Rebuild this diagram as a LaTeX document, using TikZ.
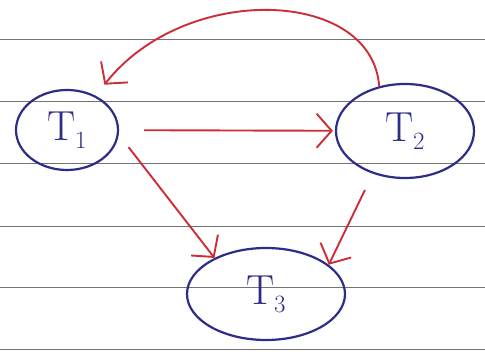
\documentclass[tikz,border=0pt]{standalone}
\usetikzlibrary{shapes.geometric,arrows.meta}
\definecolor{inkblue}{RGB}{45,45,135}
\definecolor{inkred}{RGB}{205,45,55}
\begin{document}
\begin{tikzpicture}[x=1pt,y=-1pt,
  state/.style={ellipse,draw=inkblue,line width=2.2pt,text=inkblue,inner sep=0pt,font=\fontsize{42}{44}\selectfont},
  edge/.style={draw=inkred,line width=1.9pt,-{Straight Barb[length=15pt,width=34pt,line width=1.9pt]}}]
\useasboundingbox (0,0) rectangle (485,358);
\fill[white] (0,0) rectangle (485,358);
\foreach \y in {40,102,164,227,288,349}
  \draw[black!55,line width=1pt] (0,\y) -- (485,\y);
\node[state,minimum width=102pt,minimum height=80pt] (t1) at (67,130) {T$_1$};
\node[state,minimum width=138pt,minimum height=94pt] (t2) at (405,131) {T$_2$};
\node[state,minimum width=158pt,minimum height=92pt] (t3) at (266,294) {T$_3$};
\draw[edge,shorten <=25pt,shorten >=2pt] (t1) -- (t2);
\draw[edge,shorten <=16pt] (t1.-5) -- (t3.145);
\draw[edge,shorten <=18pt] (t2.-127) -- (t3.25);
\draw[edge,shorten >=14pt] (t2.120) .. controls (372,-12) and (185,-18) .. (t1.50);
\end{tikzpicture}
\end{document}
